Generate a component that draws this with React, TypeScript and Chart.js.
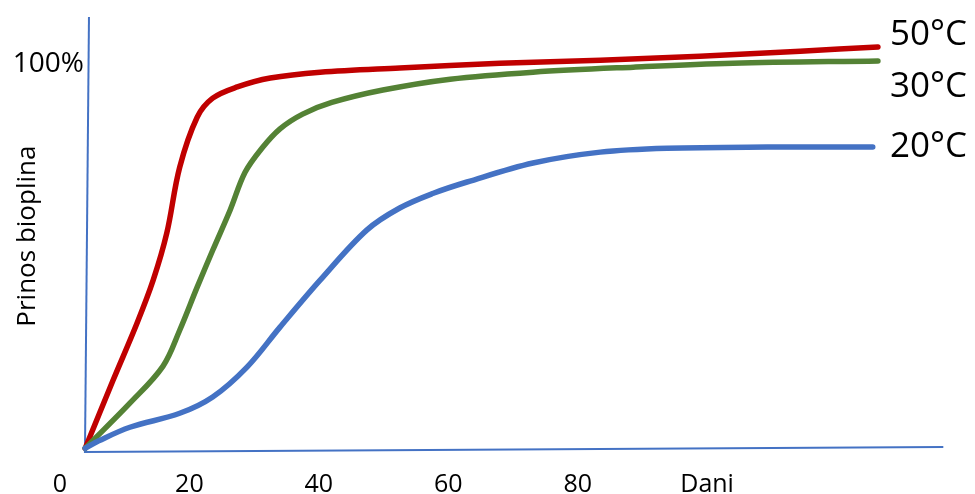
import React, { useEffect, useRef } from "react";
import { Chart, registerables } from "chart.js";

Chart.register(...registerables);

// ---- data (days, % of biogas yield) ----
const DAYS_20 = [3.9, 6.0, 10.8, 18.5, 23.6, 28.9, 34.0, 40.2, 47.4, 52.5, 57.7, 62.9, 73.1, 83.5, 93.8, 109.3, 125.6];
const YIELD_20 = [0.5, 2.4, 5.9, 9.5, 13.7, 21.4, 31.7, 43.8, 56.7, 62.4, 66.2, 69.1, 74.0, 76.8, 77.8, 78.1, 78.1];

const DAYS_30 = [3.9, 10.8, 15.9, 18.5, 21.2, 23.6, 26.3, 28.6, 31.2, 34.0, 37.5, 42.0, 49.9, 60.3, 73.1, 88.6, 104.0, 126.4];
const YIELD_30 = [0.5, 12.1, 21.6, 30.9, 42.0, 51.5, 61.9, 71.6, 77.8, 82.8, 86.6, 89.6, 92.8, 95.6, 97.4, 98.7, 99.7, 100.3];

const DAYS_50 = [3.9, 8.2, 11.9, 14.4, 16.5, 18.5, 21.2, 23.6, 27.4, 32.5, 40.2, 52.5, 68.0, 83.5, 98.9, 114.4, 126.4];
const YIELD_50 = [0.5, 18.0, 32.7, 43.8, 55.9, 72.9, 85.8, 90.7, 93.6, 95.9, 97.4, 98.5, 99.7, 100.5, 101.5, 102.8, 103.9];

const SERIES_LABELS = ["20°C", "30°C", "50°C"];

// hand-drawn axis lines
const AXIS_X_DAYS = [3.7, 136.5];
const AXIS_X_VALUES = [-0.5, 0.8];
const AXIS_Y_DAYS = [3.86, 4.48];
const AXIS_Y_VALUES = [-0.5, 111.6];

const TICK_VALUES = [0, 20, 40, 60, 80, 100];
const TICK_LABELS = ["0", "20", "40", "60", "80", "Dani"];
const Y_TICK_VALUE = 100;
const Y_TICK_LABEL = "100%";
const Y_TITLE = "Prinos bioplina";

// ---- styles ----
const COLORS = ["#4472C4", "#548235", "#C00000"];
const AXIS_COLOR = "#4472C4";
const FONT = "'Open Sans', 'DejaVu Sans', sans-serif";
const LABEL_BASELINE_OFFSETS = [10, 36, -2];

const pts = (xs: number[], ys: number[]) => xs.map((x, i) => ({ x, y: ys[i] }));

export default function App() {
  const ref = useRef<HTMLCanvasElement | null>(null);

  useEffect(() => {
    document.body.style.margin = "0";
    const canvas = ref.current;
    if (!canvas) return;

    const series = [
      pts(DAYS_20, YIELD_20),
      pts(DAYS_30, YIELD_30),
      pts(DAYS_50, YIELD_50),
    ];

    const textPlugin = {
      id: "texts",
      afterDatasetsDraw(chart: any) {
        const { ctx, scales } = chart;
        const xs = scales.x;
        const ys = scales.y;
        ctx.save();
        ctx.fillStyle = "#000";
        // x tick labels
        ctx.font = `25px ${FONT}`;
        ctx.textAlign = "center";
        ctx.textBaseline = "alphabetic";
        const base0 = ys.getPixelForValue(0);
        TICK_VALUES.forEach((v, i) => {
          ctx.fillText(TICK_LABELS[i], xs.getPixelForValue(v), base0 + 42);
        });
        // y tick label
        ctx.font = `28px ${FONT}`;
        ctx.textAlign = "right";
        ctx.fillText(Y_TICK_LABEL, xs.getPixelForValue(AXIS_Y_DAYS[1]) - 5, ys.getPixelForValue(Y_TICK_VALUE) + 10);
        // y title
        ctx.save();
        ctx.font = `26px ${FONT}`;
        ctx.textAlign = "center";
        ctx.translate(35, (ys.getPixelForValue(Y_TICK_VALUE) + base0) / 2 - 20);
        ctx.rotate(-Math.PI / 2);
        ctx.fillText(Y_TITLE, 0, 0);
        ctx.restore();
        // series labels
        ctx.font = `35px ${FONT}`;
        ctx.textAlign = "left";
        series.forEach((s, i) => {
          const last = s[s.length - 1];
          const px = xs.getPixelForValue(DAYS_50[DAYS_50.length - 1]) + 12;
          const py = ys.getPixelForValue(last.y) + LABEL_BASELINE_OFFSETS[i];
          ctx.fillText(SERIES_LABELS[i], px, py);
        });
        ctx.restore();
      },
    };

    const chart = new Chart(canvas, {
      type: "line",
      data: {
        datasets: [
          ...series.map((s, i) => ({
            label: SERIES_LABELS[i],
            data: s,
            borderColor: COLORS[i],
            borderWidth: 5.5,
            pointRadius: 0,
            tension: 0.35,
            borderCapStyle: "round" as const,
            borderJoinStyle: "round" as const,
            fill: false,
            order: 0,
          })),
          {
            label: "axisX",
            data: pts(AXIS_X_DAYS, AXIS_X_VALUES),
            borderColor: AXIS_COLOR,
            borderWidth: 2,
            pointRadius: 0,
            tension: 0,
            order: 10,
          },
          {
            label: "axisY",
            data: pts(AXIS_Y_DAYS, AXIS_Y_VALUES),
            borderColor: AXIS_COLOR,
            borderWidth: 2,
            pointRadius: 0,
            tension: 0,
            order: 10,
          },
        ],
      },
      options: {
        animation: false,
        responsive: false,
        maintainAspectRatio: false,
        layout: { padding: 0 },
        plugins: {
          legend: { display: false },
          tooltip: { enabled: false },
          title: { display: false },
        },
        scales: {
          x: { type: "linear", display: false, min: -9.27, max: 141.4 },
          y: { type: "linear", display: false, min: -11.3, max: 116.0 },
        },
      },
      plugins: [textPlugin],
    });

    return () => chart.destroy();
  }, []);

  return (
    <div style={{ position: "fixed", left: 0, top: 0, width: 975, height: 494, background: "#fff" }}>
      <canvas ref={ref} width={975} height={494} />
    </div>
  );
}
